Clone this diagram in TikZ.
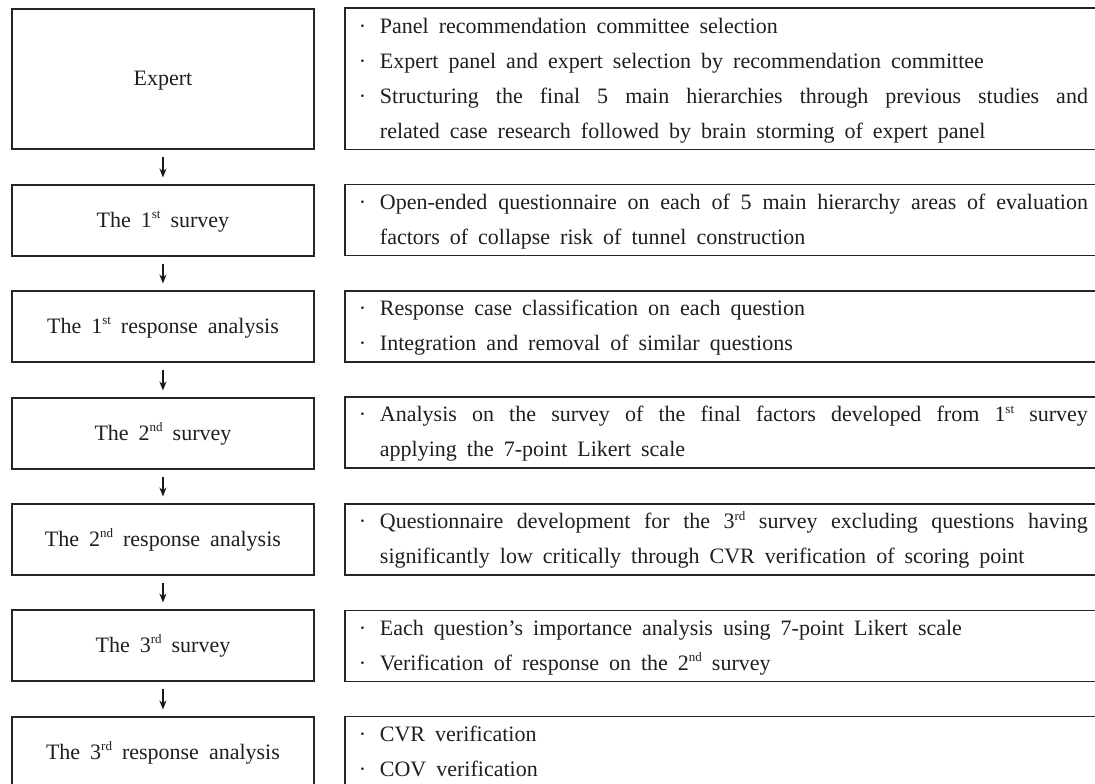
\documentclass[tikz,border=0pt]{standalone}
\usepackage{fontspec}
\setmainfont{Liberation Serif}
\usetikzlibrary{arrows.meta}
\hyphenpenalty=10000
\exhyphenpenalty=10000
\tolerance=10000
\newcommand\myfont{\fontsize{22}{35}\selectfont\spaceskip=10pt plus 14pt minus 3pt\relax}
\newcommand\sups[1]{\raisebox{8.5pt}{\fontsize{13}{13}\selectfont #1}}
\newcommand\itm[1]{\leftskip=22pt\noindent\hspace*{-22pt}\makebox[22pt][l]{\hspace{1pt}·}\strut#1\strut\par}
\tikzset{
  txt/.style={font=\myfont, text=black!88},
  lbox/.style={txt, draw=black!85, line width=1.9pt, minimum width=302pt, minimum height=71pt,
    inner sep=0pt, anchor=north west},
  rbox/.style={txt, draw=black!85, line width=1.9pt, text width=730pt, inner xsep=13pt, inner ysep=0pt,
    minimum height=71pt, anchor=north west, align=justify},
  arr/.style={draw=black!90, line width=1.4pt, -{Stealth[length=9pt,width=7pt]}, shorten <=7pt, shorten >=6.5pt}
}
\begin{document}
\begin{tikzpicture}[x=1pt,y=-1pt]
\useasboundingbox (0,0) rectangle (1095,784);
\clip (0,0) rectangle (1095,784);
\fill[white] (0,0) rectangle (1095,784);
% left boxes
\node[lbox, minimum height=140pt] (L1) at (11,8) {\strut Expert};
\node[lbox] (L2) at (11,184) {\strut The 1\sups{st} survey};
\node[lbox] (L3) at (11,290) {\strut The 1\sups{st} response analysis};
\node[lbox] (L4) at (11,397) {\strut The 2\sups{nd} survey};
\node[lbox] (L5) at (11,503) {\strut The 2\sups{nd} response analysis};
\node[lbox] (L6) at (11,609) {\strut The 3\sups{rd} survey};
\node[lbox] (L7) at (11,716) {\strut The 3\sups{rd} response analysis};
% right boxes
\node[rbox, minimum height=141pt] (R1) at (344,7.5) {%
\itm{Panel recommendation committee selection}%
\itm{Expert panel and expert selection by recommendation committee}%
\itm{Structuring the final 5 main hierarchies through previous studies and\linebreak related case research followed by brain storming of expert panel}};
\node[rbox] (R2) at (344,183.5) {%
\itm{Open-ended questionnaire on each of 5 main hierarchy areas of evaluation\linebreak factors of collapse risk of tunnel construction}};
\node[rbox] (R3) at (344,290) {%
\itm{Response case classification on each question}%
\itm{Integration and removal of similar questions}};
\node[rbox] (R4) at (344,396) {%
\itm{Analysis on the survey of the final factors developed from 1\sups{st} survey\linebreak applying the 7-point Likert scale}};
\node[rbox] (R5) at (344,503) {%
\itm{Questionnaire development for the 3\sups{rd} survey excluding questions having\linebreak significantly low critically through CVR verification of scoring point}};
\node[rbox] (R6) at (344,609.5) {%
\itm{Each question’s importance analysis using 7-point Likert scale}%
\itm{Verification of response on the 2\sups{nd} survey}};
\node[rbox] (R7) at (344,715.5) {%
\itm{CVR verification}%
\itm{COV verification}};
% arrows
\draw[arr] (L1.south) -- (L2.north);
\draw[arr] (L2.south) -- (L3.north);
\draw[arr] (L3.south) -- (L4.north);
\draw[arr] (L4.south) -- (L5.north);
\draw[arr] (L5.south) -- (L6.north);
\draw[arr] (L6.south) -- (L7.north);
\end{tikzpicture}
\end{document}
